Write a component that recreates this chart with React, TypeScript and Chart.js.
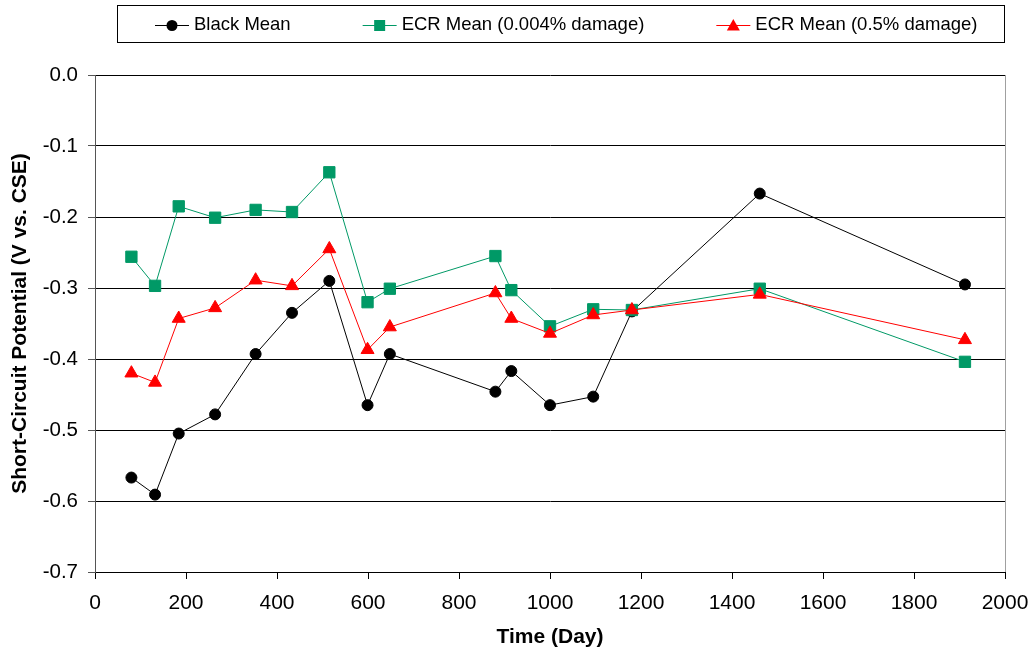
import React, { useEffect, useRef } from 'react';
import { Chart, registerables } from 'chart.js';

Chart.register(...registerables);

const days = [80, 132, 184, 264, 353, 433, 515, 599, 648, 880, 915, 1000, 1095, 1180, 1461, 1912];
const blackMean = [-0.567, -0.591, -0.505, -0.478, -0.393, -0.335, -0.29, -0.465, -0.393, -0.446, -0.417, -0.465, -0.453, -0.333, -0.167, -0.295];
const ecrMean004 = [-0.256, -0.297, -0.185, -0.201, -0.19, -0.193, -0.137, -0.32, -0.301, -0.255, -0.303, -0.354, -0.33, -0.331, -0.301, -0.404];
const ecrMean05 = [-0.42, -0.433, -0.343, -0.328, -0.289, -0.297, -0.245, -0.387, -0.355, -0.307, -0.343, -0.364, -0.338, -0.331, -0.309, -0.373];
const seriesLabels = ['Black Mean', 'ECR Mean (0.004% damage)', 'ECR Mean (0.5% damage)'];
const xTitle = 'Time (Day)';
const yTitle = 'Short-Circuit Potential (V vs. CSE)';

const FONT = '"Liberation Sans", Arial, Helvetica, sans-serif';

function drawMarker(ctx: CanvasRenderingContext2D, style: string, x: number, y: number, color: string) {
  ctx.fillStyle = color;
  ctx.beginPath();
  if (style === 'circle') {
    ctx.arc(x, y, 5.5, 0, Math.PI * 2);
  } else if (style === 'rect') {
    ctx.rect(x - 5.5, y - 5.5, 11, 11);
  } else {
    ctx.moveTo(x, y - 6.5);
    ctx.lineTo(x + 6.5, y + 5);
    ctx.lineTo(x - 6.5, y + 5);
    ctx.closePath();
  }
  ctx.fill();
}

const boxLegend = {
  id: 'boxLegend',
  afterDraw(chart: any) {
    const { ctx, chartArea } = chart;
    ctx.save();
    // right border of plot area
    ctx.strokeStyle = '#a0a0a0';
    ctx.lineWidth = 1;
    ctx.beginPath();
    ctx.moveTo(Math.round(chartArea.right) + 0.5, chartArea.top);
    ctx.lineTo(Math.round(chartArea.right) + 0.5, chartArea.bottom);
    ctx.stroke();

    // legend box
    ctx.strokeStyle = '#000';
    ctx.strokeRect(117.5, 5.5, 887, 37);
    ctx.font = `18.5px ${FONT}`;
    ctx.textBaseline = 'middle';
    ctx.textAlign = 'left';
    let x = 155;
    const y = 25;
    chart.data.datasets.forEach((ds: any) => {
      ctx.strokeStyle = ds.borderColor;
      ctx.lineWidth = 1;
      ctx.beginPath();
      ctx.moveTo(x, y + 0.5);
      ctx.lineTo(x + 34, y + 0.5);
      ctx.stroke();
      drawMarker(ctx, ds.pointStyle, x + 17, y + 0.5, ds.pointBackgroundColor);
      ctx.fillStyle = '#000';
      ctx.fillText(ds.label, x + 39, y - 0.5);
      const w = ctx.measureText(ds.label).width;
      x += 39 + w + 72;
    });
    ctx.restore();
  },
};

export default function App() {
  const ref = useRef<HTMLCanvasElement>(null);
  useEffect(() => {
    if (!ref.current) return;
    Chart.defaults.font.family = FONT;
    Chart.defaults.color = '#000';
    const toPts = (vals: number[]) => days.map((d, i) => ({ x: d, y: vals[i] }));
    const chart = new Chart(ref.current, {
      type: 'line',
      data: {
        datasets: [
          {
            label: seriesLabels[0],
            data: toPts(blackMean),
            borderColor: '#000000',
            backgroundColor: '#000000',
            pointBackgroundColor: '#000000',
            pointBorderColor: '#000000',
            pointStyle: 'circle',
            pointRadius: 5.5,
            pointBorderWidth: 1,
            borderWidth: 1,
            order: 3,
          },
          {
            label: seriesLabels[1],
            data: toPts(ecrMean004),
            borderColor: '#009966',
            backgroundColor: '#009966',
            pointBackgroundColor: '#009966',
            pointBorderColor: '#009966',
            pointStyle: 'rect',
            pointRadius: 8,
            pointBorderWidth: 1,
            borderWidth: 1,
            order: 2,
          },
          {
            label: seriesLabels[2],
            data: toPts(ecrMean05),
            borderColor: '#ff0000',
            backgroundColor: '#ff0000',
            pointBackgroundColor: '#ff0000',
            pointBorderColor: '#ff0000',
            pointStyle: 'triangle',
            pointRadius: 7.5,
            pointBorderWidth: 1,
            borderWidth: 1,
            order: 1,
          },
        ] as any,
      },
      options: {
        animation: false,
        responsive: false,
        devicePixelRatio: 1,
        layout: { padding: { top: 75, right: 29, bottom: 0, left: 0 } },
        plugins: { legend: { display: false }, tooltip: { enabled: false } },
        elements: { line: { tension: 0 } },
        scales: {
          x: {
            type: 'linear',
            min: 0,
            max: 2000,
            afterFit: (s: any) => { s.height = 84; s.paddingRight = 0; s.paddingLeft = 0; },
            ticks: {
              stepSize: 200,
              font: { size: 21 },
              color: '#000',
              padding: 12,
              maxRotation: 0,
              callback: (v: any) => String(v),
            },
            grid: { drawOnChartArea: false, drawTicks: true, tickLength: 7, tickColor: '#000', color: '#000' },
            border: { color: '#000', width: 1 },
            title: { display: true, text: xTitle, font: { size: 21, weight: 'bold' }, color: '#000', padding: { top: 0, bottom: 6 } },
          },
          y: {
            type: 'linear',
            min: -0.7,
            max: 0,
            afterFit: (s: any) => { s.width = 95; s.paddingTop = 0; s.paddingBottom = 0; },
            ticks: {
              stepSize: 0.1,
              font: { size: 20.5 },
              color: '#000',
              padding: 10,
              callback: (v: any) => Number(v).toFixed(1),
            },
            grid: { drawOnChartArea: true, drawTicks: true, tickLength: 7, color: '#000', tickColor: '#555', lineWidth: 1 },
            border: { color: '#555', width: 1 },
            title: { display: true, text: yTitle, font: { size: 21, weight: 'bold' }, color: '#000', padding: { top: 8, bottom: 0 } },
          },
        },
      } as any,
      plugins: [boxLegend],
    });
    return () => chart.destroy();
  }, []);
  return (
    <div style={{ position: 'absolute', left: 0, top: 0, width: 1034, height: 656, background: '#fff' }}>
      <canvas ref={ref} width={1034} height={656} style={{ display: 'block' }} />
    </div>
  );
}
